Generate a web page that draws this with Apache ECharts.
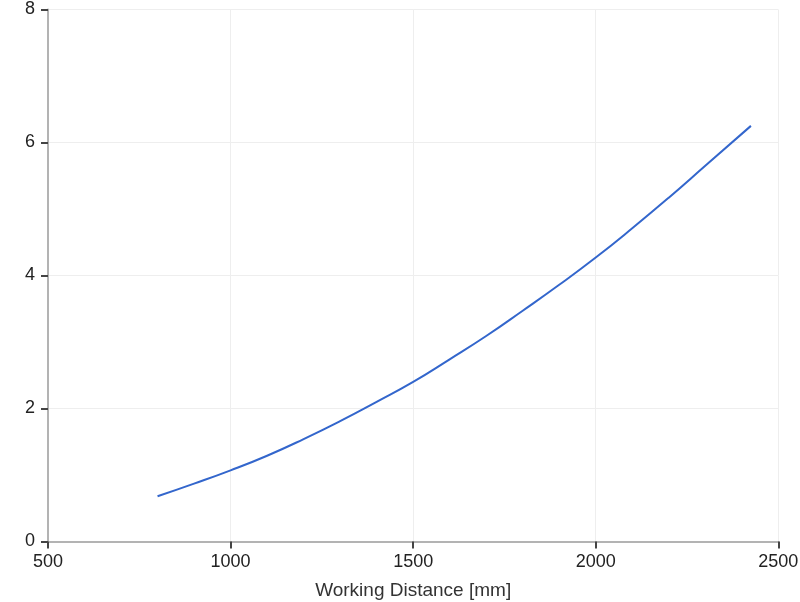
<!DOCTYPE html>
<html>
<head>
<meta charset="utf-8">
<script src="https://cdn.jsdelivr.net/npm/echarts@6/dist/echarts.min.js"></script>
<style>html,body{margin:0;padding:0;background:#fff;}#c{width:800px;height:602px;}</style>
</head>
<body>
<div id="c"></div>
<script>
const distances = [800, 900, 1000, 1100, 1200, 1300, 1400, 1500, 1600, 1700, 1800, 1900, 2000, 2100, 2200, 2300, 2425];
const values = [0.68, 0.87, 1.07, 1.29, 1.54, 1.81, 2.10, 2.40, 2.74, 3.09, 3.47, 3.86, 4.27, 4.71, 5.17, 5.65, 6.25];
const xTicks = [500, 1000, 1500, 2000, 2500];
const yTicks = [0, 2, 4, 6, 8];
const xName = 'Working Distance [mm]';

const chart = echarts.init(document.getElementById('c'));
chart.setOption({
  animation: false,
  grid: { left: 48, right: 21.7, top: 9.5, bottom: 60.5, containLabel: false, outerBoundsMode: 'none' },
  xAxis: {
    type: 'value', min: xTicks[0], max: xTicks[xTicks.length - 1], interval: 500,
    name: xName, nameLocation: 'middle', nameGap: 40,
    nameTextStyle: { color: '#333', fontSize: 19, fontFamily: 'Liberation Sans, Arial, sans-serif' },
    axisLine: { show: true, onZero: false, lineStyle: { color: '#b3b3b3', width: 2 } },
    axisTick: { show: true, length: 7, lineStyle: { color: '#444', width: 2 } },
    axisLabel: { color: '#222', fontSize: 18, margin: 12, fontFamily: 'Liberation Sans, Arial, sans-serif',
      formatter: v => String(v) },
    splitLine: { show: true, lineStyle: { color: '#eeeeee', width: 1 } }
  },
  yAxis: {
    type: 'value', min: yTicks[0], max: yTicks[yTicks.length - 1], interval: 2,
    axisLine: { show: true, onZero: false, lineStyle: { color: '#b3b3b3', width: 2 } },
    axisTick: { show: true, length: 7, lineStyle: { color: '#444', width: 2 } },
    axisLabel: { color: '#222', fontSize: 18, margin: 13, fontFamily: 'Liberation Sans, Arial, sans-serif',
      formatter: v => String(v) },
    splitLine: { show: true, lineStyle: { color: '#eeeeee', width: 1 } }
  },
  series: [{
    type: 'line',
    data: distances.map((d, i) => [d, values[i]]),
    smooth: true,
    showSymbol: false,
    lineStyle: { color: '#3366cc', width: 2 }
  }]
});
</script>
</body>
</html>
